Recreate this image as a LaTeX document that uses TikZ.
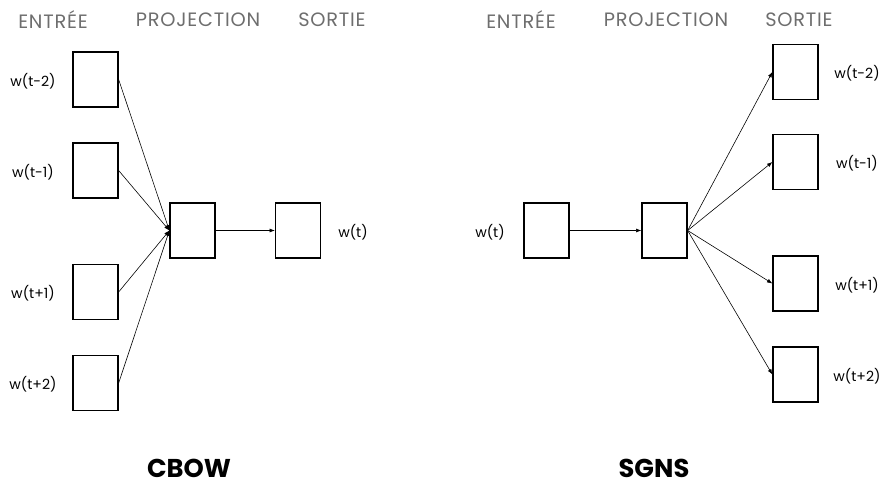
\documentclass[tikz,border=0pt]{standalone}
\usepackage{fontspec}
\setmainfont{Poppins}
\usepackage{tikz}
\usetikzlibrary{arrows}
\usetikzlibrary{arrows.meta}
\usetikzlibrary{positioning}
\definecolor{headgray}{RGB}{110,110,110}
\tikzstyle{cell}=[rectangle,draw=black,line width=1.1pt,inner sep=0mm,minimum width=1.35cm,minimum height=1.65cm]
\tikzstyle{word}=[inner sep=0mm,font=\fontsize{12}{14}\selectfont]
\tikzstyle{head}=[inner sep=0mm,text=headgray,font=\fontsize{16.5}{18}\selectfont\addfontfeatures{LetterSpace=4}]
\tikzstyle{model}=[inner sep=0mm,font=\fontsize{22}{26}\selectfont\bfseries]
\tikzstyle{arrow}=[-{Latex[length=1.6mm,width=1.2mm]},line width=0.5pt]

\begin{document}
\begin{tikzpicture}[x=0.03cm,y=-0.03cm]
        \useasboundingbox (0,0) rectangle (879,487);
        % CBOW
        \node[head] at (53,20) (hin) {ENTRÉE};
        \node[head] at (198,20) (hproj) {PROJECTION};
        \node[head] at (332,20) (hout) {SORTIE};
        \node[cell] at (95.5,79.5) (a) {};
        \node[cell] at (95.5,170.5) (b) {};
        \node[cell] at (95.5,292) (c) {};
        \node[cell] at (95.5,383) (d) {};
        \node[cell] at (192.5,230.5) (p) {};
        \node[cell] at (298,230.5) (o) {};
        \node[word] at (33,81) (la) {w(t-2)};
        \node[word] at (33,172) (lb) {w(t-1)};
        \node[word] at (33,293) (lc) {w(t+1)};
        \node[word] at (33,384) (ld) {w(t+2)};
        \node[word] at (353,232) (lo) {w(t)};
        \node[model] at (189,468) (cbow) {CBOW};
        \draw[arrow] (a.east) to (p.west);
        \draw[arrow] (b.east) to (p.west);
        \draw[arrow] (c.east) to (p.west);
        \draw[arrow] (d.east) to (p.west);
        \draw[arrow] (p) to (o);
        % SGNS
        \node[head] at (521,20) (hin2) {ENTRÉE};
        \node[head] at (666,20) (hproj2) {PROJECTION};
        \node[head] at (799,20) (hout2) {SORTIE};
        \node[cell] at (546.5,230.5) (i) {};
        \node[cell] at (664.5,230.5) (q) {};
        \node[cell] at (795.5,72) (e) {};
        \node[cell] at (795.5,162) (f) {};
        \node[cell] at (795.5,283.5) (g) {};
        \node[cell] at (795.5,374.5) (h) {};
        \node[word] at (490,232) (li) {w(t)};
        \node[word] at (857,73) (le) {w(t-2)};
        \node[word] at (857,163) (lf) {w(t-1)};
        \node[word] at (857,285) (lg) {w(t+1)};
        \node[word] at (857,376) (lh) {w(t+2)};
        \node[model] at (654,468) (sgns) {SGNS};
        \draw[arrow] (i) to (q);
        \draw[arrow] (q.east) to (e.west);
        \draw[arrow] (q.east) to (f.west);
        \draw[arrow] (q.east) to (g.west);
        \draw[arrow] (q.east) to (h.west);
      \end{tikzpicture}
\end{document}
